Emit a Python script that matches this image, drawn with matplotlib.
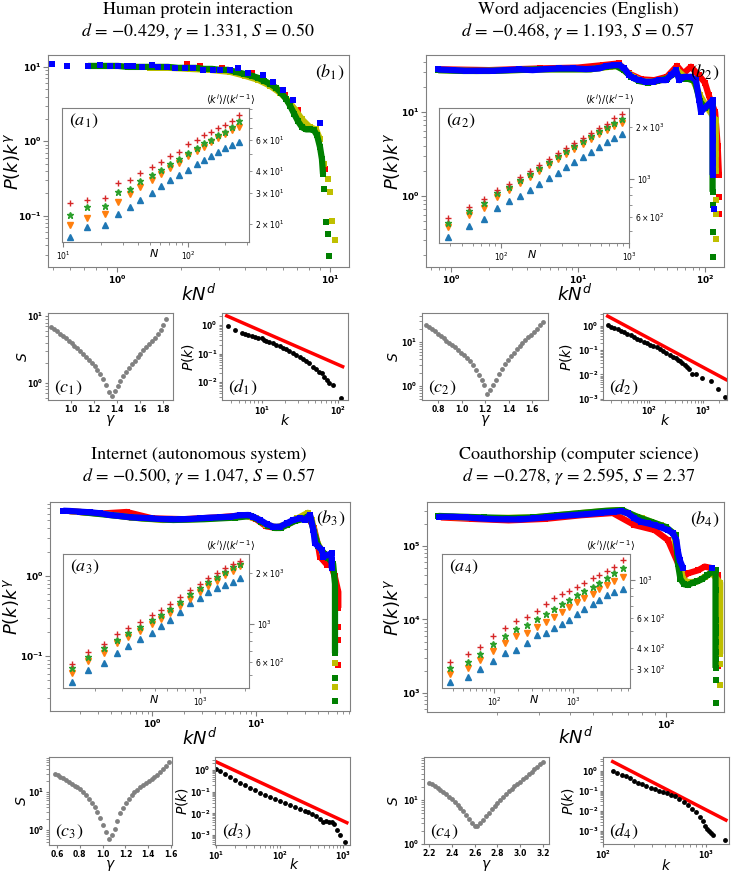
import numpy as np
import matplotlib
matplotlib.use('Agg')
import matplotlib.pyplot as plt
from matplotlib.ticker import LogLocator

# ---- data (log10 values) ----
names = ['Human protein interaction', 'Word adjacencies (English)',
         'Internet (autonomous system)', 'Coauthorship (computer science)']
d_fit = [-0.429, -0.468, -0.500, -0.278]
gamma_fit = [1.331, 1.193, 1.047, 2.595]
S_fit = [0.50, 0.57, 0.57, 2.37]

# panel 1: P(k)k^gamma vs kN^d, four system sizes (red, yellow, green, blue)
b1_red_lx = [0.329, 0.39, 0.493, 0.634, 0.732, 0.789, 0.85, 0.967, 0.977]
b1_red_ly = [1.04, 1.013, 0.987, 0.92, 0.80, 0.627, 0.427, -0.307, -0.373]
b1_yel_lx = [0.155, 0.249, 0.343, 0.437, 0.531, 0.601, 0.662, 0.718, 0.765, 0.803, 0.836, 0.869,
             0.906, 0.934, 0.953, 0.972, 0.991, 1.0, 1.009, 1.023]
b1_yel_ly = [0.987, 0.987, 0.973, 0.96, 0.933, 0.88, 0.827, 0.747, 0.653, 0.547, 0.427, 0.293,
             0.187, 0.16, 0.027, -0.307, -0.507, -0.68, -1.067, -1.333]
b1_grn_lx = [-0.136, -0.089, -0.042, 0.005, 0.052, 0.099, 0.146, 0.192, 0.239, 0.286, 0.333, 0.371,
             0.408, 0.446, 0.484, 0.521, 0.559, 0.596, 0.634, 0.662, 0.690, 0.718, 0.746, 0.770,
             0.793, 0.812, 0.831, 0.850, 0.869, 0.887, 0.906, 0.925, 0.939, 0.953, 0.962, 0.967,
             0.972, 0.981, 0.991, 0.995]
b1_grn_ly = [1.013, 1.013, 1.013, 1.013, 1.0, 1.0, 1.0, 1.0, 1.0, 0.987, 0.987, 0.987,
             0.973, 0.973, 0.96, 0.96, 0.933, 0.907, 0.88, 0.853, 0.813, 0.773, 0.72, 0.653,
             0.573, 0.48, 0.373, 0.267, 0.187, 0.16, 0.16, 0.147, 0.08, -0.08, -0.24, -0.44,
             -0.64, -1.08, -1.253, -1.547]
b1_blu_lx = [-0.305, -0.235, -0.136, -0.080, -0.033, 0.005, 0.047, 0.075, 0.117, 0.164, 0.192, 0.235,
             0.272, 0.319, 0.357, 0.404, 0.451, 0.484, 0.531, 0.568, 0.615, 0.685, 0.732, 0.779,
             0.826, 0.953]
b1_blu_ly = [1.04, 1.013, 1.013, 1.027, 1.013, 1.013, 1.013, 1.013, 1.0, 1.027, 1.0, 1.0,
             0.987, 0.987, 0.987, 0.96, 0.96, 0.96, 0.96, 0.987, 0.92, 0.893, 0.80, 0.693,
             0.56, 0.24]

# panel 1 inset: <k^i>/<k^(i-1)> vs N (i = 1..4)
a1_logN = [1.056, 1.194, 1.336, 1.442, 1.536, 1.616, 1.709, 1.782, 1.856, 1.930, 2.002, 2.069,
           2.128, 2.184, 2.242, 2.296, 2.354, 2.410]
a1_blu = [1.227, 1.284, 1.295, 1.358, 1.397, 1.44, 1.48, 1.515, 1.55, 1.58, 1.61, 1.64,
          1.665, 1.69, 1.71, 1.73, 1.75, 1.767]
a1_org = [1.295, 1.335, 1.358, 1.426, 1.47, 1.51, 1.55, 1.585, 1.62, 1.65, 1.69, 1.715,
          1.74, 1.765, 1.79, 1.81, 1.835, 1.852]
a1_grn = [1.352, 1.398, 1.403, 1.483, 1.500, 1.545, 1.580, 1.608, 1.642, 1.668, 1.707, 1.730,
          1.760, 1.780, 1.806, 1.826, 1.850, 1.886]
a1_red = [1.420, 1.437, 1.448, 1.534, 1.551, 1.590, 1.625, 1.653, 1.687, 1.710, 1.755, 1.778,
          1.806, 1.823, 1.846, 1.863, 1.886, 1.920]

# panel 2
b2_red_lx = [-0.1, 0.3, 0.7, 1.0, 1.2, 1.32, 1.40, 1.50, 1.60, 1.70, 1.78, 1.83, 1.89, 1.95,
             2.0, 2.03, 2.08, 2.09, 2.10, 2.11, 2.11, 2.11]
b2_red_ly = [1.51, 1.50, 1.52, 1.53, 1.56, 1.58, 1.46, 1.39, 1.38, 1.42, 1.55, 1.46, 1.54, 1.44,
             1.35, 1.2, 1.0, 0.8, 0.6, 0.25, -0.01, -0.214]
b2_yel_lx = [-0.1, 0.2, 0.5, 0.8, 1.1, 1.25, 1.33, 1.40, 1.50, 1.60, 1.70, 1.78, 1.84, 1.90,
             1.96, 2.02, 2.085, 2.085, 2.085, 2.085, 2.085, 2.085, 2.085]
b2_yel_ly = [1.50, 1.49, 1.50, 1.51, 1.51, 1.54, 1.55, 1.45, 1.37, 1.36, 1.40, 1.50, 1.42, 1.40,
             1.20, 1.05, 0.9, 0.7, 0.5, 0.3, -0.048, -0.214, -0.516]
b2_grn_lx = [-0.1, 0.1, 0.3, 0.5, 0.7, 0.9, 1.1, 1.22, 1.30, 1.36, 1.42, 1.48, 1.55, 1.62, 1.70,
             1.77, 1.81, 1.86, 1.92, 1.96, 2.0, 2.06, 2.06, 2.06, 2.06, 2.06, 2.06, 2.06, 2.06, 2.06]
b2_grn_ly = [1.50, 1.49, 1.49, 1.50, 1.51, 1.51, 1.51, 1.54, 1.55, 1.50, 1.42, 1.37, 1.35, 1.37, 1.40,
             1.47, 1.40, 1.40, 1.37, 1.13, 1.05, 1.1, 0.9, 0.7, 0.5, 0.3, 0.05, -0.107, -0.425, -0.72]
b2_blu_lx = [-0.105, 0.013, 0.118, 0.223, 0.328, 0.433, 0.538, 0.643, 0.748, 0.853, 0.958, 1.063,
             1.168, 1.220, 1.286, 1.325, 1.365, 1.404, 1.443, 1.483, 1.535, 1.588, 1.640, 1.693,
             1.732, 1.772, 1.798, 1.837, 1.890, 1.929, 1.955, 1.969, 2.061, 2.061, 2.061, 2.061,
             2.061, 2.073]
b2_blu_ly = [1.508, 1.5, 1.492, 1.492, 1.492, 1.5, 1.508, 1.5, 1.512, 1.52, 1.52, 1.512,
             1.52, 1.548, 1.56, 1.56, 1.52, 1.44, 1.401, 1.381, 1.361, 1.361, 1.381, 1.381,
             1.44, 1.5, 1.381, 1.42, 1.42, 1.381, 1.143, 1.004, 1.143, 0.944, 0.667, 0.389,
             0.25, -0.159]

a2_logN = [1.584, 1.752, 1.869, 1.966, 2.060, 2.148, 2.227, 2.299, 2.373, 2.443, 2.508, 2.573,
           2.638, 2.703, 2.768, 2.826, 2.885, 2.945]
a2_blu = [2.661, 2.725, 2.766, 2.830, 2.871, 2.900, 2.935, 2.970, 3.004, 3.034, 3.068, 3.098,
          3.127, 3.156, 3.185, 3.214, 3.237, 3.260]
a2_org = [2.720, 2.789, 2.830, 2.894, 2.935, 2.975, 3.010, 3.045, 3.080, 3.115, 3.144, 3.173,
          3.202, 3.231, 3.260, 3.284, 3.307, 3.324]
a2_grn = [2.743, 2.813, 2.859, 2.917, 2.952, 2.993, 3.028, 3.063, 3.098, 3.132, 3.161, 3.191,
          3.220, 3.249, 3.278, 3.301, 3.324, 3.348]
a2_red = [2.772, 2.836, 2.882, 2.935, 2.970, 3.010, 3.045, 3.080, 3.115, 3.150, 3.179, 3.208,
          3.237, 3.266, 3.295, 3.318, 3.353, 3.377]

# panel 3
b3_red_lx = [-0.8, -0.5, -0.25, 0.0, 0.3, 0.6, 0.9, 1.0, 1.1, 1.2, 1.3, 1.4, 1.5, 1.56, 1.60,
             1.618, 1.686, 1.72, 1.76, 1.795, 1.795, 1.795, 1.795, 1.795]
b3_red_ly = [0.81, 0.78, 0.80, 0.72, 0.71, 0.73, 0.76, 0.71, 0.62, 0.60, 0.64, 0.71, 0.75, 0.60, 0.38,
             0.24, 0.14, 0.15, 0.0, -0.2, -0.4, -0.634, -0.8, -1.1125]
b3_yel_lx = [-0.8, -0.5, -0.2, 0.1, 0.4, 0.7, 0.9, 1.0, 1.1, 1.2, 1.3, 1.4, 1.5, 1.54, 1.58,
             1.64, 1.70, 1.763, 1.763, 1.763, 1.763]
b3_yel_ly = [0.81, 0.78, 0.73, 0.70, 0.71, 0.73, 0.75, 0.72, 0.64, 0.61, 0.65, 0.72, 0.79, 0.70, 0.45,
             0.30, 0.22, -0.675, -0.904, -1.091, -1.384]
b3_grn_lx = [-0.7, -0.4, -0.1, 0.2, 0.5, 0.8, 0.95, 1.05, 1.12, 1.18, 1.24, 1.30, 1.38, 1.45, 1.52,
             1.56, 1.60, 1.66, 1.70, 1.745, 1.763, 1.763, 1.763, 1.763, 1.763, 1.763, 1.763, 1.763,
             1.763, 1.763]
b3_grn_ly = [0.80, 0.76, 0.72, 0.70, 0.71, 0.73, 0.75, 0.68, 0.63, 0.60, 0.60, 0.64, 0.69, 0.71, 0.76,
             0.55, 0.38, 0.28, 0.22, 0.15, -0.1, -0.3, -0.55, -0.634, -0.716, -0.8, -0.884, -0.966,
             -1.279, -1.571]
b3_blu_lx = [-0.862, -0.797, -0.700, -0.604, -0.507, -0.411, -0.314, -0.217, -0.121, -0.024, 0.072,
             0.169, 0.266, 0.362, 0.459, 0.556, 0.652, 0.749, 0.845, 0.926, 0.974, 1.039, 1.103,
             1.167, 1.232, 1.297, 1.360, 1.425, 1.473, 1.522, 1.554, 1.570, 1.635, 1.650, 1.731,
             1.731, 1.731]
b3_blu_ly = [0.816, 0.8125, 0.804, 0.796, 0.784, 0.7625, 0.75, 0.734, 0.729, 0.721, 0.7125,
             0.709, 0.709, 0.7125, 0.721, 0.729, 0.734, 0.741, 0.759, 0.7625, 0.741, 0.70, 0.65,
             0.616, 0.616, 0.659, 0.70, 0.721, 0.70, 0.7625, 0.575, 0.409, 0.325, 0.241, 0.284,
             0.2, 0.1]

a3_logN = [2.145, 2.255, 2.362, 2.449, 2.522, 2.60, 2.678, 2.74, 2.80, 2.867, 2.933, 3.0,
           3.055, 3.111, 3.167, 3.222, 3.267]
a3_blu = [2.660, 2.730, 2.772, 2.830, 2.872, 2.913, 2.948, 2.989, 3.025, 3.072, 3.125, 3.154,
          3.189, 3.213, 3.230, 3.248, 3.272]
a3_org = [2.715, 2.785, 2.829, 2.891, 2.927, 2.96, 3.0, 3.03, 3.066, 3.108, 3.15, 3.188,
          3.225, 3.257, 3.288, 3.314, 3.34]
a3_grn = [2.742, 2.809, 2.858, 2.91, 2.95, 2.985, 3.025, 3.055, 3.09, 3.133, 3.176, 3.213,
          3.25, 3.28, 3.31, 3.336, 3.356]
a3_red = [2.766, 2.836, 2.883, 2.942, 2.977, 3.013, 3.054, 3.083, 3.119, 3.160, 3.201, 3.236,
          3.272, 3.301, 3.330, 3.354, 3.372]

# panel 4
b4_red_lx = [1.07, 1.2, 1.35, 1.5, 1.65, 1.78, 1.87, 1.953, 2.008, 2.05, 2.071, 2.092, 2.133,
             2.16, 2.189, 2.215, 2.215, 2.215, 2.215, 2.215, 2.215, 2.215]
b4_red_ly = [5.39, 5.37, 5.35, 5.37, 5.42, 5.45, 5.286, 5.218, 5.082, 4.765, 4.583, 4.63, 4.67,
             4.72, 4.70, 4.6, 4.3, 4.0, 3.9, 3.82, 3.65, 3.36]
b4_yel_lx = [1.08, 1.25, 1.45, 1.65, 1.80, 1.90, 1.98, 2.03, 2.055, 2.07, 2.09, 2.11, 2.13, 2.16,
             2.19, 2.224, 2.224, 2.224, 2.224, 2.224, 2.224, 2.224, 2.224]
b4_yel_ly = [5.40, 5.38, 5.39, 5.45, 5.49, 5.38, 5.28, 5.18, 4.80, 4.55, 4.51, 4.51, 4.52, 4.58,
             4.63, 4.5, 4.2, 3.99, 3.83, 3.70, 3.53, 3.39, 3.11]
b4_grn_lx = [1.06, 1.15, 1.25, 1.35, 1.45, 1.55, 1.65, 1.75, 1.82, 1.88, 1.94, 2.0, 2.04, 2.05,
             2.06, 2.075, 2.09, 2.11, 2.13, 2.15, 2.17, 2.19, 2.205, 2.205, 2.205, 2.205, 2.205,
             2.205, 2.205, 2.205, 2.205, 2.205, 2.205]
b4_grn_ly = [5.41, 5.40, 5.39, 5.38, 5.39, 5.42, 5.45, 5.48, 5.49, 5.40, 5.33, 5.26, 5.15, 4.75,
             4.55, 4.48, 4.47, 4.50, 4.52, 4.55, 4.60, 4.65, 4.67, 4.40, 3.993, 3.90, 3.82, 3.70,
             3.56, 3.46, 3.34, 3.17, 2.868]
b4_blu_lx = [1.064, 1.120, 1.175, 1.230, 1.286, 1.342, 1.397, 1.453, 1.508, 1.564, 1.620, 1.675,
             1.730, 1.786, 1.814, 1.842, 1.870, 1.897, 1.925, 1.953, 1.980, 2.008, 2.029, 2.043,
             2.050, 2.057, 2.071, 2.189]
b4_blu_ly = [5.399, 5.399, 5.390, 5.376, 5.367, 5.363, 5.363, 5.376, 5.390, 5.408, 5.422, 5.435,
             5.453, 5.467, 5.476, 5.445, 5.376, 5.331, 5.309, 5.286, 5.254, 5.218, 5.173, 5.082,
             4.922, 4.810, 4.697, 4.697]

a4_logN = [1.443, 1.667, 1.827, 1.984, 2.143, 2.278, 2.414, 2.540, 2.658, 2.763, 2.861, 2.953,
           3.047, 3.143, 3.249, 3.333, 3.426, 3.523, 3.629]
a4_blu = [2.4, 2.429, 2.476, 2.524, 2.571, 2.588, 2.629, 2.676, 2.688, 2.718, 2.741, 2.765,
          2.80, 2.83, 2.86, 2.885, 2.91, 2.93, 2.947]
a4_org = [2.447, 2.482, 2.529, 2.582, 2.629, 2.671, 2.688, 2.724, 2.753, 2.78, 2.81, 2.84,
          2.87, 2.895, 2.92, 2.945, 2.97, 2.995, 3.018]
a4_grn = [2.482, 2.518, 2.565, 2.624, 2.671, 2.712, 2.735, 2.77, 2.80, 2.83, 2.86, 2.885,
          2.91, 2.935, 2.96, 2.985, 3.01, 3.04, 3.07]
a4_red = [2.518, 2.565, 2.606, 2.671, 2.718, 2.759, 2.782, 2.818, 2.859, 2.894, 2.918, 2.935,
          2.959, 2.982, 3.012, 3.029, 3.053, 3.076, 3.118]

# S(gamma) scans, log10 S on an even gamma grid
c_gamma_range = [(0.83, 1.83), (0.693, 1.693), (0.58, 1.58), (2.2, 3.2)]
c1_logS = [0.84, 0.80, 0.77, 0.73, 0.70, 0.665, 0.63, 0.59, 0.555, 0.515, 0.475, 0.435, 0.39,
           0.345, 0.30, 0.25, 0.19, 0.13, 0.06, -0.03, -0.13, -0.19, -0.12, -0.04, 0.03, 0.10,
           0.16, 0.22, 0.28, 0.335, 0.39, 0.44, 0.49, 0.54, 0.585, 0.63, 0.675, 0.73, 0.79,
           0.86, 0.95]
c2_logS = [1.38, 1.34, 1.29, 1.24, 1.18, 1.13, 1.08, 1.03, 0.98, 0.93, 0.88, 0.82, 0.76, 0.70,
           0.64, 0.56, 0.47, 0.37, 0.26, 0.13, 0.01, -0.18, -0.10, 0.03, 0.14, 0.27, 0.39, 0.49,
           0.59, 0.68, 0.76, 0.84, 0.91, 0.98, 1.05, 1.11, 1.17, 1.23, 1.30, 1.38, 1.46]
c3_logS = [1.48, 1.44, 1.40, 1.36, 1.31, 1.27, 1.22, 1.17, 1.12, 1.08, 1.00, 0.91, 0.81, 0.71,
           0.60, 0.48, 0.33, 0.14, -0.05, -0.24, -0.14, 0.02, 0.25, 0.44, 0.58, 0.70, 0.82, 0.91,
           0.99, 1.06, 1.13, 1.18, 1.23, 1.28, 1.33, 1.40, 1.46, 1.52, 1.60, 1.69, 1.78]
c4_logS = [1.39, 1.36, 1.32, 1.28, 1.24, 1.19, 1.14, 1.08, 1.02, 0.96, 0.89, 0.82, 0.74, 0.66,
           0.57, 0.48, 0.40, 0.40, 0.47, 0.55, 0.63, 0.71, 0.79, 0.87, 0.94, 1.01, 1.08, 1.14,
           1.20, 1.26, 1.32, 1.37, 1.42, 1.48, 1.53, 1.59, 1.64, 1.70, 1.76, 1.82, 1.87]

# degree distributions (log10 k, log10 P) and the fitted power-law line
d1_lk = [0.553, 0.648, 0.735, 0.78, 0.821, 0.865, 0.909, 0.95, 0.996, 1.03, 1.061, 1.10, 1.148,
         1.19, 1.235, 1.28, 1.322, 1.36, 1.408, 1.45, 1.495, 1.54, 1.583, 1.62, 1.669, 1.71,
         1.756, 1.79, 1.821, 1.855, 1.887, 1.93, 2.039]
d1_lp = [-0.035, -0.175, -0.29, -0.32, -0.35, -0.38, -0.41, -0.44, -0.467, -0.51, -0.55, -0.59,
         -0.64, -0.69, -0.737, -0.79, -0.853, -0.91, -0.97, -1.04, -1.11, -1.18, -1.25, -1.35,
         -1.46, -1.55, -1.64, -1.70, -1.81, -1.93, -2.05, -2.1, -2.57]
d1_fit_lk, d1_fit_lp = [0.54, 2.06], [0.32, -1.46]
d2_lk = [1.235, 1.30, 1.36, 1.42, 1.48, 1.54, 1.60, 1.66, 1.72, 1.78, 1.84, 1.90, 1.96, 2.02,
         2.08, 2.14, 2.20, 2.26, 2.32, 2.38, 2.44, 2.50, 2.54, 2.58, 2.62, 2.66, 2.70, 2.74,
         2.80, 2.87, 2.99, 3.15, 3.27, 3.40]
d2_lp = [0.04, -0.03, -0.09, -0.14, -0.20, -0.27, -0.33, -0.39, -0.45, -0.52, -0.59, -0.66,
         -0.72, -0.78, -0.83, -0.88, -0.95, -1.02, -1.10, -1.18, -1.27, -1.34, -1.40, -1.45,
         -1.52, -1.60, -1.68, -1.78, -1.96, -2.0, -2.16, -2.25, -2.59, -2.93]
d2_fit_lk, d2_fit_lp = [1.235, 3.426], [0.40, -2.21]
d3_lk = [1.0, 1.068, 1.146, 1.225, 1.303, 1.381, 1.459, 1.537, 1.615, 1.693, 1.771, 1.849,
         1.928, 2.006, 2.084, 2.162, 2.240, 2.318, 2.396, 2.455, 2.514, 2.572, 2.631, 2.680,
         2.729, 2.777, 2.826, 2.865, 2.904, 2.953, 3.031]
d3_lp = [0.05, -0.06, -0.20, -0.33, -0.46, -0.58, -0.70, -0.82, -0.94, -1.05, -1.15, -1.24,
         -1.33, -1.42, -1.51, -1.60, -1.70, -1.79, -1.88, -1.95, -2.02, -2.12, -2.28, -2.38,
         -2.36, -2.38, -2.42, -2.48, -2.76, -3.0, -3.30]
d3_fit_lk, d3_fit_lp = [1.0, 3.06], [0.38, -2.43]
d4_lk = [2.094, 2.14, 2.18, 2.22, 2.26, 2.30, 2.34, 2.38, 2.42, 2.46, 2.50, 2.54, 2.58, 2.62,
         2.66, 2.70, 2.74, 2.78, 2.82, 2.86, 2.90, 2.94, 2.97, 2.99, 3.01, 3.03, 3.05, 3.065,
         3.178]
d4_lp = [0.015, -0.09, -0.19, -0.28, -0.38, -0.48, -0.58, -0.67, -0.75, -0.83, -0.91, -0.98,
         -1.05, -1.12, -1.19, -1.27, -1.38, -1.55, -1.72, -1.88, -2.05, -2.28, -2.52, -2.72,
         -2.88, -2.98, -3.08, -3.2, -3.43]
d4_fit_lk, d4_fit_lp = [2.094, 3.19], [0.46, -2.45]

# ---- figure ----
W, H = 733, 872
plt.rcParams['axes.edgecolor'] = '0.5'
plt.rcParams['xtick.color'] = '0.5'
plt.rcParams['ytick.color'] = '0.5'
plt.rcParams['xtick.labelcolor'] = 'black'
plt.rcParams['ytick.labelcolor'] = 'black'

fig = plt.figure(figsize=(W / 100, H / 100), dpi=100)
bold_axes = []


def box(l, t, r, b):
    return [l / W, 1 - b / H, (r - l) / W, (b - t) / H]


def place_labels(ax, rect, ylab_x, xlab_y, xlab_x=None):
    # ylab_x: figure pixel of the y label's right side, xlab_y: pixel of the x label's top
    l, t, r, b = rect
    fx = 0.5 if xlab_x is None else (xlab_x - l) / (r - l)
    ax.yaxis.set_label_coords((ylab_x - l) / (r - l), 0.5)
    ax.xaxis.set_label_coords(fx, -(xlab_y - b) / (b - t))


def log_ticks(ax):
    for axis in (ax.xaxis, ax.yaxis):
        axis.set_major_locator(LogLocator(base=10, numticks=12))
        axis.set_minor_locator(LogLocator(base=10, subs=np.arange(2, 10), numticks=12))


def plot_b(rect, series, joins, xl, yl, n, ylab_x, xlab_y):
    ax = fig.add_axes(box(*rect))
    for (lx, ly), col, j in zip(series, ['r', 'y', 'g', 'b'], joins):
        x, y = 10.0 ** np.array(lx), 10.0 ** np.array(ly)
        if j:
            ax.plot(x[:j], y[:j], '-', color=col, lw=4.5, solid_capstyle='butt')
        ax.plot(x, y, 's', color=col, ms=5, mew=0)
    ax.set_xscale('log')
    ax.set_yscale('log')
    ax.set_xlim(10 ** xl[0], 10 ** xl[1])
    ax.set_ylim(10 ** yl[0], 10 ** yl[1])
    ax.set_xlabel(r'$kN^d$', fontsize=13, va='top')
    ax.set_ylabel(r'$P(k)k^\gamma$', fontsize=13)
    place_labels(ax, rect, ylab_x, xlab_y)
    ax.tick_params(which='both', labelsize=6.5, pad=1)
    ax.text(0.985, 0.965, rf'$(b_{n})$', transform=ax.transAxes, ha='right', va='top',
            fontsize=13, math_fontfamily='stix')
    bold_axes.append(ax)


def plot_a(rect, logN, ys, xl, yl, n):
    ax = fig.add_axes(box(*rect))
    for ly, m, col in zip(ys, ['^', 'v', '*', '+'],
                          ['tab:blue', 'tab:orange', 'tab:green', 'tab:red']):
        ax.plot(10.0 ** np.array(logN), 10.0 ** np.array(ly), m, color=col, ms=4.5, mew=1)
    ax.set_xscale('log')
    ax.set_yscale('log')
    ax.set_xlim(10 ** xl[0], 10 ** xl[1])
    ax.set_ylim(10 ** yl[0], 10 ** yl[1])
    ax.yaxis.tick_right()
    ax.tick_params(which='both', labelsize=5.5, pad=2)
    ax.text(0.035, 0.97, rf'$(a_{n})$', transform=ax.transAxes, ha='left', va='top',
            fontsize=13, math_fontfamily='stix')
    ax.text(0.49, -0.04, r'$N$', transform=ax.transAxes, ha='center', va='top', fontsize=8)
    ax.text(0.9, 1.01, r'$\langle k^i\rangle/\langle k^{i-1}\rangle$', transform=ax.transAxes,
            ha='center', va='bottom', fontsize=7)


def plot_c(rect, grange, logS, xl, yl, xt, n, ylab_x, xlab_y):
    ax = fig.add_axes(box(*rect))
    gam = np.linspace(grange[0], grange[1], len(logS))
    ax.plot(gam, 10.0 ** np.array(logS), 'o', color='gray', ms=3.5, mew=0)
    ax.set_yscale('log')
    ax.set_xlim(*xl)
    ax.set_ylim(10 ** yl[0], 10 ** yl[1])
    ax.set_xticks(xt)
    ax.set_xlabel(r'$\gamma$', fontsize=10, va='top')
    ax.set_ylabel(r'$S$', fontsize=10)
    place_labels(ax, rect, ylab_x, xlab_y)
    ax.tick_params(which='both', labelsize=5.5, pad=1, length=2.5)
    ax.text(0.05, 0.04, rf'$(c_{n})$', transform=ax.transAxes, ha='left', va='bottom',
            fontsize=13, math_fontfamily='stix')
    bold_axes.append(ax)


def plot_d(rect, lk, lp, flk, flp, xl, yl, n, ylab_x, xlab_y, xlab_x=None):
    ax = fig.add_axes(box(*rect))
    ax.plot(10.0 ** np.array(flk), 10.0 ** np.array(flp), '-', color='r', lw=2.5)
    ax.plot(10.0 ** np.array(lk), 10.0 ** np.array(lp), 'o', color='black', ms=3.5, mew=0)
    ax.set_xscale('log')
    ax.set_yscale('log')
    log_ticks(ax)
    ax.set_xlim(10 ** xl[0], 10 ** xl[1])
    ax.set_ylim(10 ** yl[0], 10 ** yl[1])
    ax.set_xlabel(r'$k$', fontsize=10, va='top')
    ax.set_ylabel(r'$P(k)$', fontsize=10)
    place_labels(ax, rect, ylab_x, xlab_y, xlab_x)
    ax.tick_params(which='both', labelsize=5.5, pad=1, length=2.5)
    ax.text(0.05, 0.04, rf'$(d_{n})$', transform=ax.transAxes, ha='left', va='bottom',
            fontsize=13, math_fontfamily='stix')
    bold_axes.append(ax)


title_xy = [(198, 22), (578, 22), (199, 467), (579, 467)]
for name, d, g, s, (tx, ty) in zip(names, d_fit, gamma_fit, S_fit, title_xy):
    dtxt = f'{d:.3f}'.replace('-', '\u2212')
    fig.text(tx / W, 1 - ty / H,
             f'{name}\n$d$ = {dtxt}, $\\gamma$ = {g:.3f}, $S$ = {s:.2f}',
             ha='center', va='center', fontsize=13, family='STIXGeneral',
             math_fontfamily='stix', linespacing=1.25)

# panel 1
r = (48, 55, 349, 267)
plot_b(r, [(b1_red_lx, b1_red_ly), (b1_yel_lx, b1_yel_ly),
           (b1_grn_lx, b1_grn_ly), (b1_blu_lx, b1_blu_ly)], [0, 15, 36, 0],
       (-0.324, 1.089), (-1.69, 1.16), 1, 22, 284)
plot_a((62, 108, 249, 242), a1_logN, [a1_blu, a1_org, a1_grn, a1_red], (0.99, 2.49), (1.199, 1.96), 1)
plot_c((48, 313, 173, 400), c_gamma_range[0], c1_logS, (0.80, 1.888), (-0.254, 1.045),
       [1.0, 1.2, 1.4, 1.6, 1.8], 1, 30, 413)
plot_d((222, 313, 348, 400), d1_lk, d1_lp, d1_fit_lk, d1_fit_lp, (0.478, 2.13), (-2.63, 0.42), 1,
       196, 413)

# panel 2
r = (426, 55, 724, 267)
plot_b(r, [(b2_red_lx, b2_red_ly), (b2_yel_lx, b2_yel_ly),
           (b2_grn_lx, b2_grn_ly), (b2_blu_lx, b2_blu_ly)], [20, 20, 27, 37],
       (-0.197, 2.15), (-0.845, 1.68), 2, 402, 284)
plot_a((439, 108, 629, 243), a2_logN, [a2_blu, a2_org, a2_grn, a2_red], (1.516, 3.0), (2.627, 3.41), 2)
plot_c((422, 313, 548, 400), c_gamma_range[1], c2_logS, (0.659, 1.736), (-0.32, 1.66),
       [0.8, 1.0, 1.2, 1.4, 1.6], 2, 401, 413)
plot_d((603, 313, 727, 400), d2_lk, d2_lp, d2_fit_lk, d2_fit_lp, (1.148, 3.444), (-3.05, 0.53), 2,
       574, 413)

# panel 3
r = (50, 502, 350, 711)
plot_b(r, [(b3_red_lx, b3_red_ly), (b3_yel_lx, b3_yel_ly),
           (b3_grn_lx, b3_grn_ly), (b3_blu_lx, b3_blu_ly)], [21, 17, 28, 37],
       (-0.99, 1.908), (-1.69, 0.925), 3, 21, 728)
plot_a((63, 554, 249, 688), a3_logN, [a3_blu, a3_org, a3_grn, a3_red], (2.087, 3.327), (2.625, 3.413), 3)
plot_c((49, 757, 172, 845), c_gamma_range[2], c3_logS, (0.53, 1.609), (-0.39, 1.92),
       [0.6, 0.8, 1.0, 1.2, 1.4, 1.6], 3, 29, 858)
plot_d((215, 757, 350, 845), d3_lk, d3_lp, d3_fit_lk, d3_fit_lp, (0.984, 3.11), (-3.46, 0.6), 3,
       190, 857, 294)

# panel 4
r = (427, 502, 724, 712)
plot_b(r, [(b4_red_lx, b4_red_ly), (b4_yel_lx, b4_yel_ly),
           (b4_grn_lx, b4_grn_ly), (b4_blu_lx, b4_blu_ly)], [21, 21, 31, 27],
       (1.0125, 2.24), (2.74, 5.6), 4, 402, 727)
plot_a((442, 554, 630, 688), a4_logN, [a4_blu, a4_org, a4_grn, a4_red], (1.342, 3.72), (2.365, 3.153), 4)
plot_c((424, 757, 549, 844), c_gamma_range[3], c4_logS, (2.156, 3.253), (0.0, 1.98),
       [2.2, 2.4, 2.6, 2.8, 3.0, 3.2], 4, 401, 858)
plot_d((603, 757, 729, 844), d4_lk, d4_lp, d4_fit_lk, d4_fit_lp, (2.0, 3.22), (-3.64, 0.69), 4,
       576, 858)

fig.canvas.draw()
for ax in bold_axes:
    for lab in ax.get_xticklabels(which='both') + ax.get_yticklabels(which='both'):
        lab.set_fontweight('bold')

fig.savefig('out.png', dpi=100)
